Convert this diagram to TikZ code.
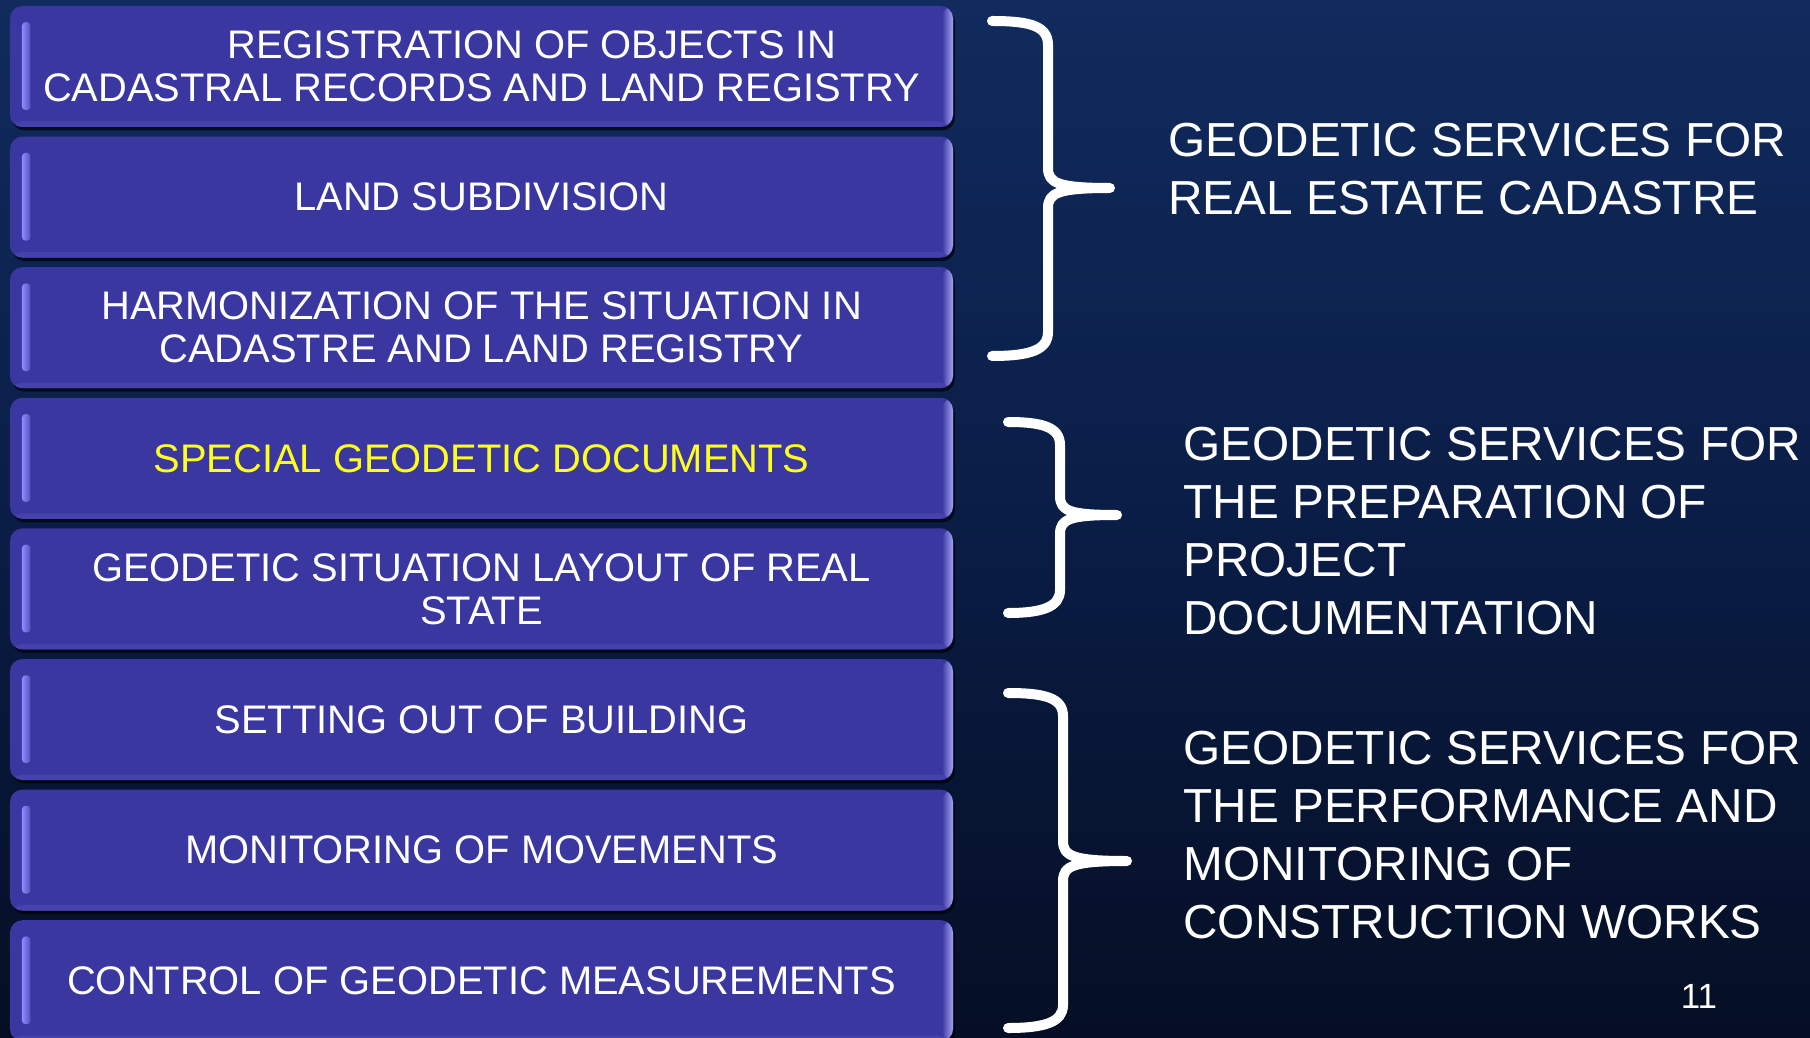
\documentclass[tikz,border=0pt]{standalone}
\usepackage{fontspec}
\setmainfont{Liberation Sans}
\usetikzlibrary{shadows}
\definecolor{bgtop}{HTML}{112B5E}
\definecolor{bgmid}{HTML}{0A1D46}
\definecolor{bgbot}{HTML}{050E24}
\definecolor{boxc}{HTML}{3A37A0}
\definecolor{boxedge}{HTML}{A4A4F4}
\definecolor{boxbot}{HTML}{4542AE}
\definecolor{barc}{HTML}{8C8CFF}
\definecolor{hilite}{HTML}{FFFF1E}
\begin{document}
\begin{tikzpicture}[x=0.4pt,y=-0.4pt,
  box/.style={rounded corners=5pt, fill=boxc, minimum width=377.2pt, minimum height=48.4pt,
    inner sep=0pt, text=white, align=center,
    font=\fontsize{15.95}{17.2}\selectfont,
    drop shadow={shadow xshift=0.8pt, shadow yshift=-1.4pt, opacity=0.65, fill=black},
    path picture={
      \fill[boxbot] ([yshift=2.2pt]path picture bounding box.south west) rectangle (path picture bounding box.south east);
      \shade[left color=boxc, right color=boxedge] ([xshift=-4.5pt]path picture bounding box.north east) rectangle (path picture bounding box.south east);
      \shade[left color=barc, right color=boxc!70!barc, rounded corners=1.4pt]
        ([xshift=4.8pt,yshift=-6.5pt]path picture bounding box.north west) rectangle
        ([xshift=8.2pt,yshift=6.8pt]path picture bounding box.south west);
    }},
  brace/.style={draw=white, line width=4pt, line cap=round, line join=round},
  side/.style={text=white, align=left, inner sep=0pt, anchor=north west,
    font=\fontsize{19.1}{23.2}\selectfont}
]
\useasboundingbox (0,0) rectangle (1810,1038);
\shade[top color=bgtop, bottom color=bgbot, middle color=bgmid] (0,0) rectangle (1810,1038);

\node[box] (b1) at (481.5,66.5) {\hspace*{40pt}REGISTRATION OF OBJECTS IN\\CADASTRAL RECORDS AND LAND REGISTRY};
\node[box] (b2) at (481.5,197.1) {LAND SUBDIVISION};
\node[box] (b3) at (481.5,327.7) {HARMONIZATION OF THE SITUATION IN\\CADASTRE AND LAND REGISTRY};
\node[box, text=hilite] (b4) at (481.5,458.3) {SPECIAL GEODETIC DOCUMENTS};
\node[box] (b5) at (481.5,588.9) {GEODETIC SITUATION LAYOUT OF REAL\\STATE};
\node[box] (b6) at (481.5,719.5) {SETTING OUT OF BUILDING};
\node[box] (b7) at (481.5,850.1) {MONITORING OF MOVEMENTS};
\node[box] (b8) at (481.5,980.7) {CONTROL OF GEODETIC MEASUREMENTS};

% braces
\draw[brace] (992,21) .. controls (1030,21) and (1048,26) .. (1048,45) -- (1048,168)
  .. controls (1048,183) and (1058,188) .. (1110,188)
  .. controls (1058,188) and (1048,193) .. (1048,208) -- (1048,332)
  .. controls (1048,350) and (1030,356) .. (992,356);
\draw[brace] (1008,422) .. controls (1042,422) and (1060,427) .. (1060,445) -- (1060,496)
  .. controls (1060,511) and (1070,515) .. (1117,515)
  .. controls (1070,515) and (1060,519) .. (1060,534) -- (1060,590)
  .. controls (1060,607) and (1042,613) .. (1008,613);
\draw[brace] (1008,693) .. controls (1045,693) and (1063,698) .. (1063,716) -- (1063,841)
  .. controls (1063,856) and (1073,861) .. (1127,861)
  .. controls (1073,861) and (1063,866) .. (1063,881) -- (1063,1005)
  .. controls (1063,1022) and (1045,1028) .. (1008,1028);

\node[side] (t1) at (1168,123) {GEODETIC SERVICES FOR\\REAL ESTATE CADASTRE};
\node[side] (t2) at (1183,427) {GEODETIC SERVICES FOR\\THE PREPARATION OF\\PROJECT\\DOCUMENTATION};
\node[side] (t3) at (1183,731) {GEODETIC SERVICES FOR\\THE PERFORMANCE AND\\MONITORING OF\\CONSTRUCTION WORKS};
\node[text=white, inner sep=0pt, font=\fontsize{14}{16}\selectfont] (pg) at (1699,996) {11};
\end{tikzpicture}
\end{document}
